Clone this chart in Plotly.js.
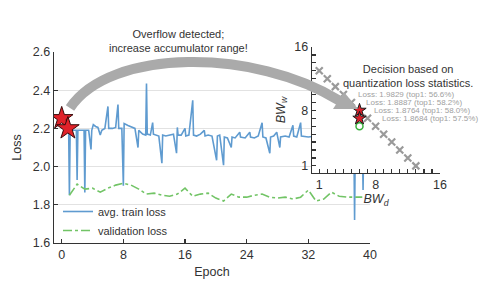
<!DOCTYPE html>
<html><head><meta charset="utf-8">
<script src="https://cdn.plot.ly/plotly-3.0.1.min.js"></script>
<style>html,body{margin:0;padding:0;background:#fff}</style>
</head><body><div id="chart" style="width:491px;height:292px"></div>
<script>
// ---- data ----
const trainEpoch = [0.0,0.5,0.9,1.0,1.1,1.5,1.9,2.0,2.1,2.5,2.9,3.0,3.1,3.5,3.8,3.9,4.1,4.4,4.7,5.0,5.2,5.6,6.0,6.1,6.6,7.0,7.3,7.4,7.8,8.0,8.1,8.6,9.0,9.5,9.9,10.0,10.5,10.9,11.0,11.1,11.5,11.8,11.9,12.3,12.6,13.0,13.1,13.5,14.0,14.5,14.9,15.0,15.1,15.5,16.0,16.1,16.5,17.0,17.1,17.5,18.0,18.5,18.6,19.0,19.5,20.1,20.2,20.5,21.0,21.1,21.5,22.0,22.1,22.5,23.1,23.2,23.8,24.4,24.5,25.0,25.5,26.0,26.1,26.5,27.0,27.1,27.5,27.9,28.0,28.3,28.4,29.0,29.5,30.0,30.1,30.5,31.0,31.1,32.0,33.0,34.0,35.0,36.0,37.0,37.9,38.0,38.1,39.0,39.1,39.2,40.0];
const trainLoss  = [2.25,2.21,2.20,1.85,2.20,2.19,2.19,1.93,2.19,2.19,2.19,1.865,2.19,2.19,2.09,2.19,2.22,2.21,2.205,2.165,2.19,2.20,2.315,2.20,2.20,2.205,2.325,2.20,2.20,1.90,2.225,2.215,2.21,2.20,2.10,2.19,2.17,2.165,2.435,2.17,2.165,2.23,2.17,2.165,2.16,2.018,2.165,2.16,2.165,2.17,2.07,2.205,2.165,2.165,2.20,2.16,2.165,2.347,2.165,2.16,2.17,2.19,2.16,2.165,2.16,2.033,2.16,2.165,2.007,2.155,2.15,2.10,2.155,2.15,2.18,2.155,2.15,2.18,2.155,2.15,2.16,2.23,2.155,2.15,2.07,2.155,2.16,2.18,2.16,2.10,2.155,2.16,2.155,2.216,2.16,2.155,2.23,2.16,2.155,2.16,2.155,2.16,2.155,2.16,2.16,1.72,2.16,2.16,1.877,2.16,2.16];
const valEpoch = [1,2,3,4,5,6,7,8,9,10,11,12,13,14,15,16,17,18,19,20,21,22,23,24,25,26,27,28,29,30,31,32,33,34,35,36,37,38,39];
const valLoss  = [1.85,1.908,1.882,1.887,1.866,1.887,1.903,1.913,1.903,1.882,1.856,1.861,1.85,1.845,1.856,1.887,1.845,1.856,1.861,1.835,1.82,1.856,1.84,1.84,1.85,1.856,1.84,1.835,1.84,1.83,1.84,1.877,1.82,1.83,1.866,1.845,1.84,1.84,1.84];
const overflowEpoch = [0.0, 0.8];
const overflowLoss  = [2.253, 2.20];
const bwD = [1,2,3,4,5,7,8,9,10,11,12,13];
const bwW = [13,12,11,10,9,7,6,5,4,3,2,1];
const chosenD = [6,6];
const chosenW = [8,7];
const altD = [6];
const altW = [6];
const lossLabels = ["Loss: 1.9829 (top1: 56.6%)","Loss: 1.8887 (top1: 58.2%)","Loss: 1.8764 (top1: 58.0%)","Loss: 1.8684 (top1: 57.5%)"];
const bwTicks = [1,2,3,4,5,6,7,8,9,10,11,12,13,14,15,16];
const bwTickText = bwTicks.map(v => (v===1||v===8||v===16) ? String(v) : "");
const epochTicks = [0,8,16,24,32,40];

// ---- layout helpers ----
const W = 491, H = 292;
const px = (x) => x / W, py = (y) => 1 - y / H;
function pathPx(pts) {
  return pts.map(p => p[0] + p.slice(1).reduce((s, v, i) => s + (i ? (i % 2 ? " " : ",") : "") + (i % 2 ? py(v) : px(v)).toFixed(5), "")).join(" ");
}
const FONT = "Liberation Sans, Arial, sans-serif";
const DARK = "#333333";

const traces = [
  {x: trainEpoch, y: trainLoss, type: "scatter", mode: "lines", name: "avg. train loss",
   line: {color: "#5f9bd0", width: 1.6}, xaxis: "x", yaxis: "y"},
  {x: valEpoch, y: valLoss, type: "scatter", mode: "lines", name: "validation loss",
   line: {color: "#72c466", width: 1.6, dash: "dashdot"}, xaxis: "x", yaxis: "y"},
  {x: overflowEpoch, y: overflowLoss, type: "scatter", mode: "markers", showlegend: false,
   marker: {symbol: "star", size: 17, color: "#e0222a", line: {color: "#3a0a0a", width: 1}}, xaxis: "x", yaxis: "y"},
  {x: bwD, y: bwW, type: "scatter", mode: "markers", showlegend: false,
   marker: {symbol: "x-thin", size: 7, color: "#9a9a9a", line: {color: "#9a9a9a", width: 2.2}}, xaxis: "x2", yaxis: "y2"},
  {x: altD, y: altW, type: "scatter", mode: "markers", showlegend: false,
   marker: {symbol: "circle-open", size: 7, color: "#38b03a", line: {color: "#38b03a", width: 1.5}}, xaxis: "x2", yaxis: "y2"},
  {x: chosenD, y: chosenW, type: "scatter", mode: "markers", showlegend: false,
   marker: {symbol: "star", size: 10, color: "#d8202a", line: {color: "#1a1a1a", width: 1}}, xaxis: "x2", yaxis: "y2"}
];

const axisCommon = {showline: true, linecolor: DARK, linewidth: 1.3, ticks: "inside", ticklen: 4,
  tickcolor: DARK, tickwidth: 1.2, zeroline: false, tickfont: {family: FONT, size: 12.5, color: DARK}};

const annotations = [
  {xref: "paper", yref: "paper", x: px(178), y: py(41), xanchor: "center", yanchor: "middle", text: "Overflow detected;<br>increase accumulator range!",
   showarrow: false, font: {family: FONT, size: 11, color: DARK}, align: "center"},
  {xref: "paper", yref: "paper", x: px(408), y: py(76), xanchor: "center", yanchor: "middle", text: "Decision based on<br>quantization loss statistics.",
   showarrow: false, font: {family: FONT, size: 11, color: DARK}, align: "center"}
];
const labelX = [5.6, 6.6, 7.6, 8.6], labelY = [10, 9, 8, 7];
lossLabels.forEach((t, i) => annotations.push({xref: "x2", yref: "y2", x: labelX[i], y: labelY[i], text: t,
  xanchor: "left", yanchor: "middle", showarrow: false, font: {family: FONT, size: 8, color: "#a0a0a0"}}));

const arrowPath = pathPx([["M", 70, 108], ["C", 110, 48, 255, 48, 340, 101]]);
const headPath = pathPx([["M", 358, 109], ["L", 333, 109], ["L", 344, 92], ["Z"]]);

const layout = {
  width: W, height: H, margin: {l: 0, r: 0, t: 0, b: 0},
  paper_bgcolor: "#fff", plot_bgcolor: "#fff",
  font: {family: FONT, color: DARK},
  showlegend: true,
  legend: {x: px(58), y: py(197), xanchor: "left", yanchor: "top", bgcolor: "rgba(0,0,0,0)",
    font: {family: FONT, size: 11, color: DARK}, tracegroupgap: 0},
  xaxis: Object.assign({}, axisCommon, {domain: [px(54), px(370)], range: [-1, 40], tickvals: epochTicks,
    showgrid: false, anchor: "y", title: {text: "Epoch", font: {family: FONT, size: 12.5, color: DARK}, standoff: 6}}),
  yaxis: Object.assign({}, axisCommon, {domain: [py(243), py(52)], range: [1.6, 2.6], dtick: 0.2, tickformat: ".1f",
    showgrid: true, gridcolor: "#e2e2e2", gridwidth: 1, anchor: "x",
    title: {text: "Loss", font: {family: FONT, size: 12.5, color: DARK}, standoff: 8}}),
  xaxis2: Object.assign({}, axisCommon, {domain: [px(312), px(440)], range: [0.1, 16], tickvals: bwTicks, ticktext: bwTickText,
    showgrid: false, anchor: "y2", title: {text: "<i>BW<sub>d</sub></i>", font: {family: FONT, size: 12.5, color: DARK}, standoff: 2}}),
  yaxis2: Object.assign({}, axisCommon, {domain: [py(173), py(47)], range: [0.1, 16], tickvals: bwTicks, ticktext: bwTickText,
    showgrid: false, anchor: "x2", title: {text: "<i>BW<sub>w</sub></i>", font: {family: FONT, size: 12.5, color: DARK}, standoff: 6}}),
  shapes: [
    {type: "rect", xref: "x2", yref: "y2", x0: 0.1, x1: 16, y0: 0.1, y1: 16, layer: "below",
     fillcolor: "#ffffff", line: {width: 0}},
    {type: "path", xref: "paper", yref: "paper", path: arrowPath, layer: "above", line: {color: "#aaaaaa", width: 10}},
    {type: "path", xref: "paper", yref: "paper", path: headPath, layer: "above", fillcolor: "#aaaaaa", line: {width: 0}}
  ],
  annotations: annotations
};

Plotly.newPlot("chart", traces, layout, {displayModeBar: false, staticPlot: true});
</script>
</body></html>
